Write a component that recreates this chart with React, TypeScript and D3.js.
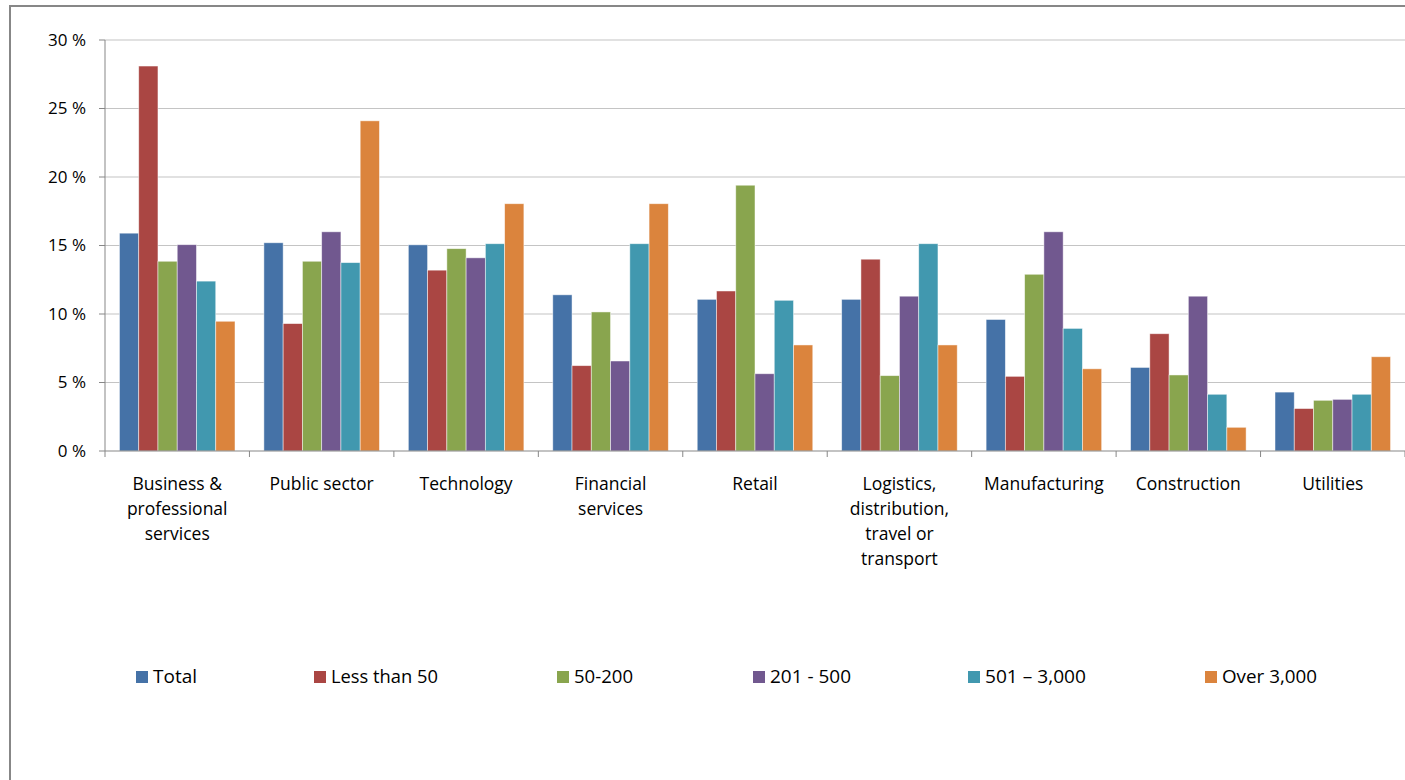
import React from 'react';
import * as d3 from 'd3';

const categories = [
  ['Business &', 'professional', 'services'],
  ['Public sector'],
  ['Technology'],
  ['Financial', 'services'],
  ['Retail'],
  ['Logistics,', 'distribution,', 'travel or', 'transport'],
  ['Manufacturing'],
  ['Construction'],
  ['Utilities'],
];

const seriesNames = ['Total', 'Less than 50', '50-200', '201 - 500', '501 \u2013 3,000', 'Over 3,000'];
const seriesColors = ['#4572A7', '#AA4643', '#89A54E', '#71588F', '#4198AF', '#DB843D'];

const total = [15.9, 15.2, 15.05, 11.4, 11.07, 11.07, 9.6, 6.1, 4.3];
const lessThan50 = [28.1, 9.3, 13.2, 6.23, 11.68, 14.0, 5.45, 8.56, 3.1];
const from50to200 = [13.85, 13.85, 14.77, 10.15, 19.4, 5.5, 12.9, 5.55, 3.7];
const from201to500 = [15.06, 16.0, 14.1, 6.57, 5.64, 11.3, 16.0, 11.3, 3.77];
const from501to3000 = [12.4, 13.75, 15.13, 15.13, 11.0, 15.13, 8.95, 4.14, 4.14];
const over3000 = [9.47, 24.1, 18.05, 18.05, 7.74, 7.74, 6.0, 1.73, 6.88];

const seriesValues = [total, lessThan50, from50to200, from201to500, from501to3000, over3000];
const yTicks = [0, 5, 10, 15, 20, 25, 30];

// legend layout: marker x and text width
const legendX = [136, 314, 557, 753, 968, 1205];
const legendTextW = [44, 107, 59, 81, 101, 95];

const W = 1405;
const H = 780;
const left = 105;
const right = 1405;
const top = 40;
const bottom = 451;
const font = '"Open Sans", Lato, sans-serif';

export default function App() {
  const x = d3.scaleBand<number>()
    .domain(categories.map((_, i) => i))
    .range([left, right])
    .padding(0);
  const inner = d3.scaleBand<number>()
    .domain(seriesNames.map((_, i) => i))
    .range([x.bandwidth() * 0.1, x.bandwidth() * 0.9])
    .padding(0);
  const y = d3.scaleLinear().domain([0, 30]).range([bottom, top]);

  return (
    <div style={{ width: W, height: H, overflow: 'hidden', background: '#fff' }}>
      <style>{'html,body{margin:0;padding:0;overflow:hidden;background:#fff}'}</style>
      <svg width={W} height={H} style={{ display: 'block', fontFamily: font }}>
        <rect x={10} y={6} width={W + 20} height={H + 20} fill="#fff" stroke="#878787" strokeWidth={2} />
        {yTicks.map(t => (
          <g key={t}>
            {t > 0 && <line x1={left} x2={right} y1={y(t)} y2={y(t)} stroke="#c4c4c4" strokeWidth={1.2} />}
            <line x1={left - 6} x2={left} y1={y(t)} y2={y(t)} stroke="#878787" />
            <text x={86} y={y(t)} dy="0.35em" textAnchor="end" fontSize={17} fill="#000">{`${t} %`}</text>
          </g>
        ))}
        {categories.map((c, i) => (
          <g key={i} transform={`translate(${x(i)},0)`}>
            {seriesValues.map((vals, s) => (
              <rect
                key={s}
                x={inner(s)}
                y={y(vals[i])}
                width={inner.bandwidth()}
                height={bottom - y(vals[i])}
                fill={seriesColors[s]}
                stroke="#ffffff"
                strokeOpacity={0.6}
                strokeWidth={0.8}
              />
            ))}
            {c.map((line, k) => (
              <text key={k} x={x.bandwidth() / 2} y={484 + k * 25} dy="0.35em" textAnchor="middle" fontSize={17.5} fill="#000">{line}</text>
            ))}
          </g>
        ))}
        {d3.range(categories.length + 1).map(i => (
          <line key={i} x1={left + i * x.step()} x2={left + i * x.step()} y1={bottom} y2={bottom + 6} stroke="#878787" />
        ))}
        <line x1={left} x2={left} y1={top} y2={bottom} stroke="#878787" />
        <line x1={left} x2={right} y1={bottom} y2={bottom} stroke="#878787" />
        {seriesNames.map((n, s) => (
          <g key={n}>
            <rect x={legendX[s]} y={671} width={12} height={12} fill={seriesColors[s]} />
            <text
              x={legendX[s] + 17}
              y={677}
              dy="0.35em"
              fontSize={18}
              fill="#000"
              textLength={legendTextW[s]}
              lengthAdjust="spacingAndGlyphs"
            >
              {n}
            </text>
          </g>
        ))}
      </svg>
    </div>
  );
}
